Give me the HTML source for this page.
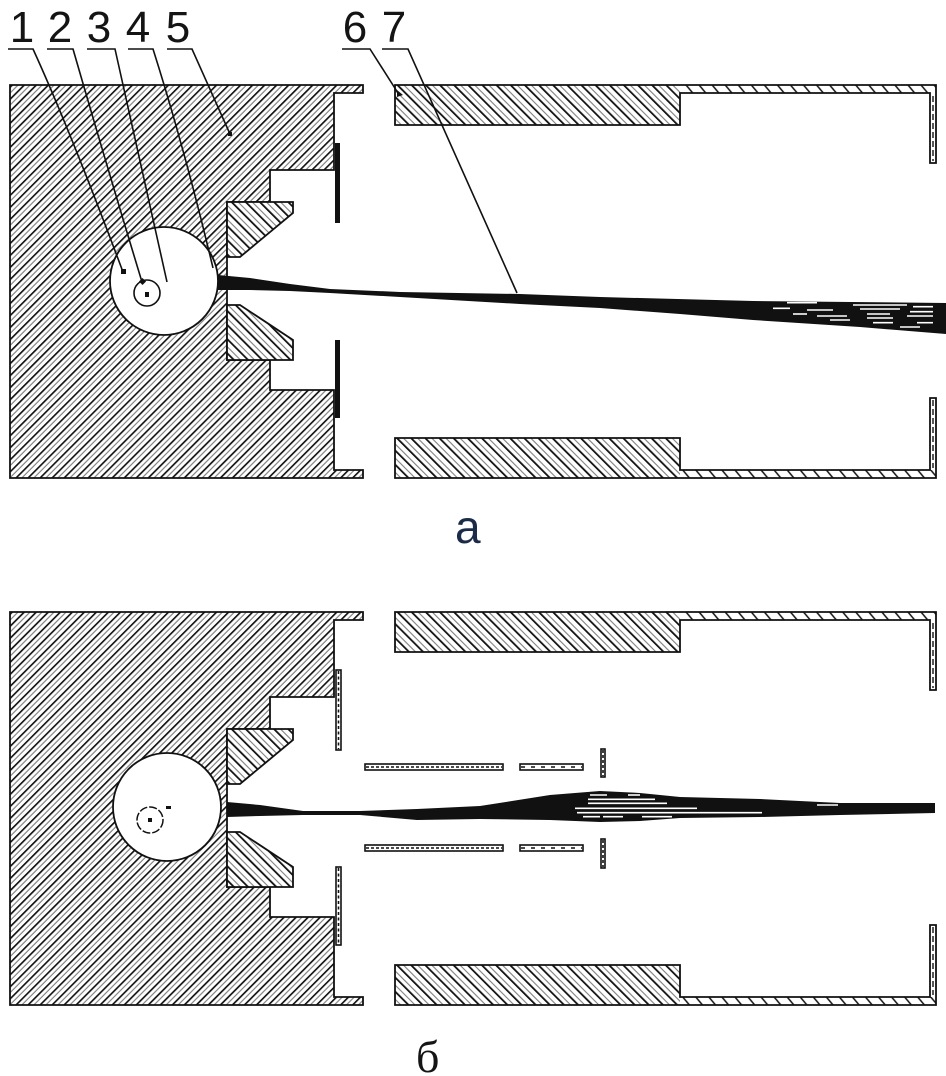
<!DOCTYPE html>
<html>
<head>
<meta charset="utf-8">
<style>
  html,body{margin:0;padding:0;background:#fff;}
  svg{display:block;}
  .lbl{font-family:"Liberation Sans",sans-serif;font-size:44px;fill:#141414;}
</style>
</head>
<body>
<svg xmlns="http://www.w3.org/2000/svg" xmlns:xlink="http://www.w3.org/1999/xlink" width="946" height="1076" viewBox="0 0 946 1076">
<defs>
  <pattern id="hA" patternUnits="userSpaceOnUse" width="8.5" height="8.5" patternTransform="rotate(45)">
    <rect width="8.5" height="8.5" fill="#fff"/>
    <line x1="0.8" y1="0" x2="0.8" y2="8.5" stroke="#111" stroke-width="1.7"/>
    <line x1="4.9" y1="0" x2="4.9" y2="8.5" stroke="#7a7a7a" stroke-width="1.1"/>
  </pattern>
  <pattern id="hB" patternUnits="userSpaceOnUse" width="10" height="10" patternTransform="rotate(-45)">
    <rect width="10" height="10" fill="#fff"/>
    <line x1="0.9" y1="0" x2="0.9" y2="10" stroke="#111" stroke-width="1.8"/>
    <line x1="5.5" y1="0" x2="5.5" y2="10" stroke="#808080" stroke-width="1.1"/>
  </pattern>
  <pattern id="hC" patternUnits="userSpaceOnUse" width="10" height="10" patternTransform="rotate(-40)">
    <rect width="10" height="10" fill="#fff"/>
    <line x1="0.9" y1="0" x2="0.9" y2="10" stroke="#111" stroke-width="1.5"/>
  </pattern>
  <g id="frame">
    <polygon points="10,85 363,85 363,93 334,93 334,170 270,170 270,202 227,202 227,360 270,360 270,390 334,390 334,470 363,470 363,478 10,478" fill="url(#hA)" stroke="#111" stroke-width="1.8"/>
    <polygon points="227,202 293,202 293,213 240,257 227,257" fill="url(#hB)" stroke="#111" stroke-width="1.8"/>
    <polygon points="227,305 240,305 293,340 293,360 227,360" fill="url(#hB)" stroke="#111" stroke-width="1.8"/>
    <!-- upper right -->
    <rect x="395" y="85" width="285" height="40" fill="url(#hB)"/>
    <rect x="680" y="85" width="256" height="8" fill="url(#hC)"/>
    <polygon points="395,85 936,85 936,163 930,163 930,93 680,93 680,125 395,125" fill="none" stroke="#111" stroke-width="1.8"/>
    <line x1="933" y1="96" x2="933" y2="161" stroke="#111" stroke-width="1.4" stroke-dasharray="6 3"/>
    <!-- lower right -->
    <rect x="395" y="438" width="285" height="40" fill="url(#hB)"/>
    <rect x="680" y="470" width="256" height="8" fill="url(#hC)"/>
    <polygon points="395,438 680,438 680,470 930,470 930,398 936,398 936,478 395,478" fill="none" stroke="#111" stroke-width="1.8"/>
    <line x1="933" y1="400" x2="933" y2="468" stroke="#111" stroke-width="1.4" stroke-dasharray="6 3"/>
  </g>
</defs>

<rect width="946" height="1076" fill="#fff"/>

<!-- ============ FIGURE a ============ -->
<use xlink:href="#frame" href="#frame"/>
<circle cx="164" cy="281" r="54" fill="#fff" stroke="#111" stroke-width="1.8"/>
<circle cx="147" cy="293" r="13" fill="none" stroke="#111" stroke-width="1.6"/>
<rect x="145" y="292" width="4" height="5" fill="#111"/>

<!-- beam a -->
<polygon points="218,275 250,278 290,284 330,289 400,292 520,294 600,297 753,301 946,303 946,334 860,327 753,320 680,314 600,308 520,304 400,297 330,293 290,291 250,290 218,290" fill="#111"/>
<g stroke="#fff" stroke-width="1.6">
  <line x1="787" y1="302.7" x2="817" y2="302.7"/>
  <line x1="773" y1="308.3" x2="790" y2="308.3"/>
  <line x1="807" y1="310" x2="833" y2="310"/>
  <line x1="793" y1="314" x2="807" y2="314"/>
  <line x1="817" y1="316" x2="847" y2="316"/>
  <line x1="830" y1="320" x2="850" y2="320"/>
  <line x1="853" y1="305" x2="907" y2="305"/>
  <line x1="860" y1="309" x2="900" y2="309"/>
  <line x1="867" y1="314" x2="890" y2="314"/>
  <line x1="867" y1="318" x2="893" y2="318"/>
  <line x1="873" y1="322.7" x2="893" y2="322.7"/>
  <line x1="900" y1="327" x2="920" y2="327"/>
  <line x1="913" y1="306.7" x2="933" y2="306.7"/>
  <line x1="910" y1="311.7" x2="933" y2="311.7"/>
  <line x1="907" y1="316" x2="933" y2="316"/>
  <line x1="917" y1="322.7" x2="933" y2="322.7"/>
</g>

<!-- black bars a -->
<rect x="335" y="143" width="5" height="80" fill="#111"/>
<rect x="335" y="340" width="5" height="78" fill="#111"/>

<!-- leader lines -->
<g fill="none" stroke="#111" stroke-width="1.6">
  <path d="M8,49 H33 Q70,130 123,272"/>
  <path d="M47,49 H73 Q105,160 142,282"/>
  <path d="M87,49 H115 Q140,160 167,282"/>
  <path d="M128,49 H153 Q185,150 213,268"/>
  <path d="M167,49 H192 L230,134"/>
  <path d="M342,49 H370 L398,93"/>
  <path d="M382,49 H408 L517,293"/>
</g>
<rect x="121" y="269" width="5" height="5" fill="#111"/>
<rect x="140" y="279" width="5" height="5" fill="#111" transform="rotate(45 142.5 281.5)"/>
<rect x="228" y="132" width="4" height="4" fill="#111"/>
<polygon points="397,90 403,95 397,97" fill="#111"/>

<text class="lbl" x="22" y="42" text-anchor="middle">1</text>
<text class="lbl" x="60" y="42" text-anchor="middle">2</text>
<text class="lbl" x="99" y="42" text-anchor="middle">3</text>
<text class="lbl" x="138" y="42" text-anchor="middle">4</text>
<text class="lbl" x="178" y="42" text-anchor="middle">5</text>
<text class="lbl" x="355" y="42" text-anchor="middle">6</text>
<text class="lbl" x="394" y="42" text-anchor="middle">7</text>

<text x="455" y="543" font-family="'Liberation Sans',sans-serif" font-size="46" fill="#1c2b48">а</text>

<!-- ============ FIGURE б ============ -->
<use xlink:href="#frame" href="#frame" y="527"/>
<circle cx="167" cy="807" r="54" fill="#fff" stroke="#111" stroke-width="1.8"/>
<circle cx="150" cy="820" r="13" fill="none" stroke="#111" stroke-width="1.5" stroke-dasharray="8 2"/>
<rect x="148" y="818" width="4" height="4" fill="#111"/>
<rect x="166" y="806" width="5" height="3" fill="#111"/>

<!-- beam b -->
<polygon points="227,802 260,805 303,811 360,811 417,809 480,806 550,795 600,791 640,793 680,797 760,799 840,803 935,803 935,813 840,815 760,817 680,818 640,821 600,822 550,820 480,819 417,820 360,815 303,815 260,816 227,817" fill="#111"/>
<g stroke="#fff" stroke-width="1.6">
  <line x1="588" y1="799.3" x2="655" y2="799.3"/>
  <line x1="588" y1="803.3" x2="667" y2="803.3"/>
  <line x1="575" y1="808.3" x2="697" y2="808.3"/>
  <line x1="577" y1="812.7" x2="762" y2="812.7"/>
  <line x1="583" y1="816.7" x2="600" y2="816.7"/>
  <line x1="603" y1="816.7" x2="623" y2="816.7"/>
  <line x1="642" y1="816.7" x2="672" y2="816.7"/>
  <line x1="590" y1="795" x2="607" y2="795"/>
  <line x1="628" y1="795" x2="640" y2="795"/>
  <line x1="817" y1="805" x2="838" y2="805"/>
</g>

<!-- dashed bars b -->
<g fill="#fff" stroke="#111" stroke-width="1.6">
  <rect x="336" y="670" width="5" height="80"/>
  <rect x="336" y="867" width="5" height="78"/>
  <rect x="365" y="764" width="138" height="6"/>
  <rect x="520" y="764" width="63" height="6"/>
  <rect x="365" y="845" width="138" height="6"/>
  <rect x="520" y="845" width="63" height="6"/>
  <rect x="601" y="749" width="4" height="28"/>
  <rect x="601" y="839" width="4" height="29"/>
</g>
<g stroke="#111" stroke-width="1.6">
  <line x1="338.5" y1="671" x2="338.5" y2="749" stroke-dasharray="3 2.5"/>
  <line x1="338.5" y1="868" x2="338.5" y2="944" stroke-dasharray="3 2.5"/>
  <line x1="366" y1="767" x2="502" y2="767" stroke-dasharray="3 2"/>
  <line x1="521" y1="767" x2="582" y2="767" stroke-dasharray="4 6"/>
  <line x1="366" y1="848" x2="502" y2="848" stroke-dasharray="3 2"/>
  <line x1="521" y1="848" x2="582" y2="848" stroke-dasharray="4 6"/>
  <line x1="603" y1="750" x2="603" y2="776" stroke-dasharray="3 2"/>
  <line x1="603" y1="840" x2="603" y2="867" stroke-dasharray="3 2"/>
</g>

<text x="416" y="1072" font-family="'Liberation Serif',serif" font-size="46" fill="#151515">б</text>
</svg>
</body>
</html>
